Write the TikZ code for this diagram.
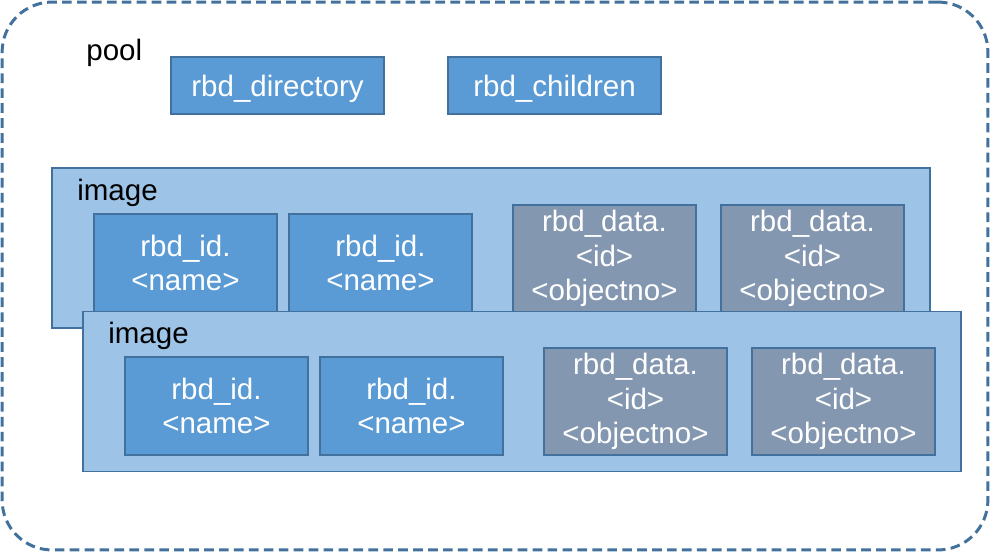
\documentclass[tikz,border=0pt]{standalone}
\usepackage{fontspec}
\setmainfont{Liberation Sans}
\usetikzlibrary{positioning}
\definecolor{edge}{HTML}{41719C}
\definecolor{objfill}{HTML}{5B9BD5}
\definecolor{imgfill}{HTML}{9DC3E6}
\definecolor{datafill}{HTML}{8497B0}

\begin{document}
\begin{tikzpicture}[x=0.02cm,y=-0.02cm,
 obj/.style={draw=edge,line width=1.1pt,fill=objfill,text=white,align=center,
 inner sep=0pt,minimum width=3.66cm,minimum height=1.96cm,
 font=\fontsize{16.8}{19.8}\selectfont},
 meta/.style={obj,minimum width=4.26cm,minimum height=1.14cm,
 text depth=0pt,text height=12.4pt},
 databox/.style={obj,fill=datafill,minimum height=2.14cm},
 imagebox/.style={draw=edge,line width=1.1pt,fill=imgfill,inner sep=0pt,
 minimum width=17.56cm,minimum height=3.2cm},
 lbl/.style={anchor=west,inner sep=0pt,font=\fontsize{16.8}{19.8}\selectfont}]
\useasboundingbox (0,0) rectangle (990,552);
\node[draw=edge,line width=1.7pt,dash pattern=on 5.5pt off 3pt,rounded corners=1cm,
 minimum width=19.72cm,minimum height=10.96cm] (pool) at (495,276) {};
\node[lbl] (poolname) at (86,53) {pool};
\node[meta] (dir) at (277.5,85.5) {rbd\_directory};
\node[meta] (children) at (554.5,85.5) {rbd\_children};
% first image
\node[imagebox] (imgA) at (491,248) {};
\node[lbl] (imgAname) at (77,193) {image};
\node[obj] (idA1) at (185.5,263) {rbd\_id.\\<name>};
\node[obj] (idA2) at (380.5,263) {rbd\_id.\\<name>};
\node[databox] (dataA1) at (604.5,258.5) {rbd\_data.\\<id>\\<objectno>};
\node[databox] (dataA2) at (812.5,258.5) {rbd\_data.\\<id>\\<objectno>};
% second image
\node[imagebox] (imgB) at (522,391.5) {};
\node[lbl] (imgBname) at (108,336) {image};
\node[obj] (idB1) at (216.5,406) {rbd\_id.\\<name>};
\node[obj] (idB2) at (411.5,406) {rbd\_id.\\<name>};
\node[databox] (dataB1) at (635.5,401.5) {rbd\_data.\\<id>\\<objectno>};
\node[databox] (dataB2) at (843.5,401.5) {rbd\_data.\\<id>\\<objectno>};
\end{tikzpicture}
\end{document}
